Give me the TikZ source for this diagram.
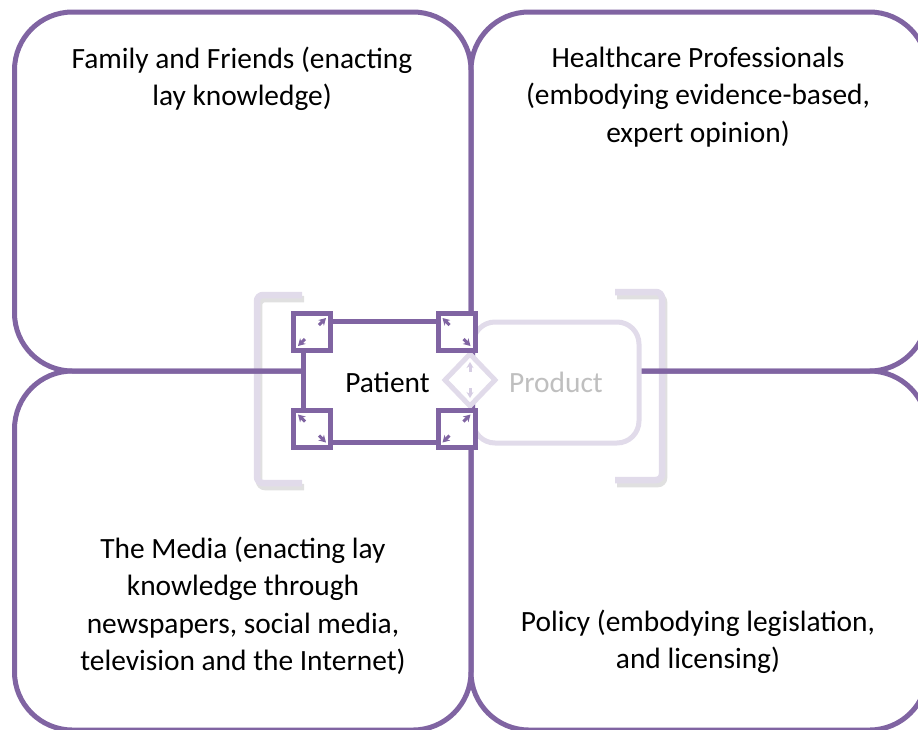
\documentclass[tikz,border=0pt]{standalone}
\usepackage{fontspec}
\setmainfont{Carlito}
\usetikzlibrary{shapes.geometric,arrows.meta}
\definecolor{plum}{HTML}{8064A2}
\definecolor{lilac}{HTML}{E1DBEA}
\definecolor{lilacdark}{HTML}{D6CDE3}
\definecolor{mist}{HTML}{BFBFBF}
\tikzset{
  quad/.style={draw=plum, line width=5pt, rounded corners=58pt, minimum width=456.5pt, minimum height=359pt},
  label/.style={align=center, font=\fontsize{29.4}{37.5}\selectfont, inner sep=0pt},
  handle/.style={draw=plum, fill=white, line width=5pt, minimum size=37pt, inner sep=0pt},
  grip/.style={plum, line width=3pt, -{Stealth[length=7pt,width=8pt]}},
  bracket/.style={lilac, line width=6.5pt, rounded corners=6pt},
}
\begin{document}
\begin{tikzpicture}[x=1pt, y=-1pt]
    \useasboundingbox (0,0) rectangle (918,729);
    \clip (0,0) rectangle (918,729);
    % brackets round the pair, with a soft shadow
    \draw[bracket, black!20, opacity=.6, xshift=2pt, yshift=-4pt] (302,295) -- (257,295) -- (257,483) -- (302,483);
    \draw[bracket, black!20, opacity=.6, xshift=2pt, yshift=-4pt] (615,292) -- (662,292) -- (662,480) -- (615,480);
    \draw[bracket] (302,295) -- (257,295) -- (257,483) -- (302,483);
    \draw[bracket] (615,292) -- (662,292) -- (662,480) -- (615,480);
    % the four quarters
    \node[quad] (family) at (242.75,191.5) {};
    \node[quad] (experts) at (699.25,191.5) {};
    \node[quad] (media) at (242.75,550.5) {};
    \node[quad] (policy) at (699.25,550.5) {};
    \node[label] (familytext) at (242,79) {Family and Friends (enacting\\lay knowledge)};
    \node[label] (expertstext) at (698,97) {Healthcare Professionals\\(embodying evidence-based,\\expert opinion)};
    \node[label] (mediatext) at (243,606) {The Media (enacting lay\\knowledge through\\newspapers, social media,\\television and the Internet)};
    \node[label] (policytext) at (698,642) {Policy (embodying legislation,\\and licensing)};
    % centre
    \node[draw=lilac, fill=white, line width=5pt, rounded corners=22pt, minimum width=166pt, minimum height=121pt, label, text=mist] (product) at (556,382.5) {Product};
    \node[draw=plum, fill=white, line width=5pt, minimum width=169pt, minimum height=121.5pt, label] (patient) at (387.5,382) {Patient};
    \node[diamond, draw=lilac, fill=white, line width=5pt, minimum width=52pt, minimum height=54pt, inner sep=0pt] (link) at (470,380) {};
    \draw[lilacdark, line width=3pt, -{Stealth[length=6pt,width=7pt]}] (link.center) ++(0,-8) -- ++(0,-10);
    \draw[lilacdark, line width=3pt, -{Stealth[length=6pt,width=7pt]}] (link.center) ++(0,8) -- ++(0,10);
    \node[handle] (tl) at (312,332) {};
    \node[handle] (tr) at (456.5,332) {};
    \node[handle] (bl) at (312,428.5) {};
    \node[handle] (br) at (456.5,428.5) {};
    \foreach \nm/\dx in {tl/1, tr/-1, bl/-1, br/1} {
        \draw[grip] (\nm.center) ++(\dx*7,-7) -- ++(\dx*7,-7);
        \draw[grip] (\nm.center) ++(-\dx*7,7) -- ++(-\dx*7,7);
    }
\end{tikzpicture}
\end{document}
